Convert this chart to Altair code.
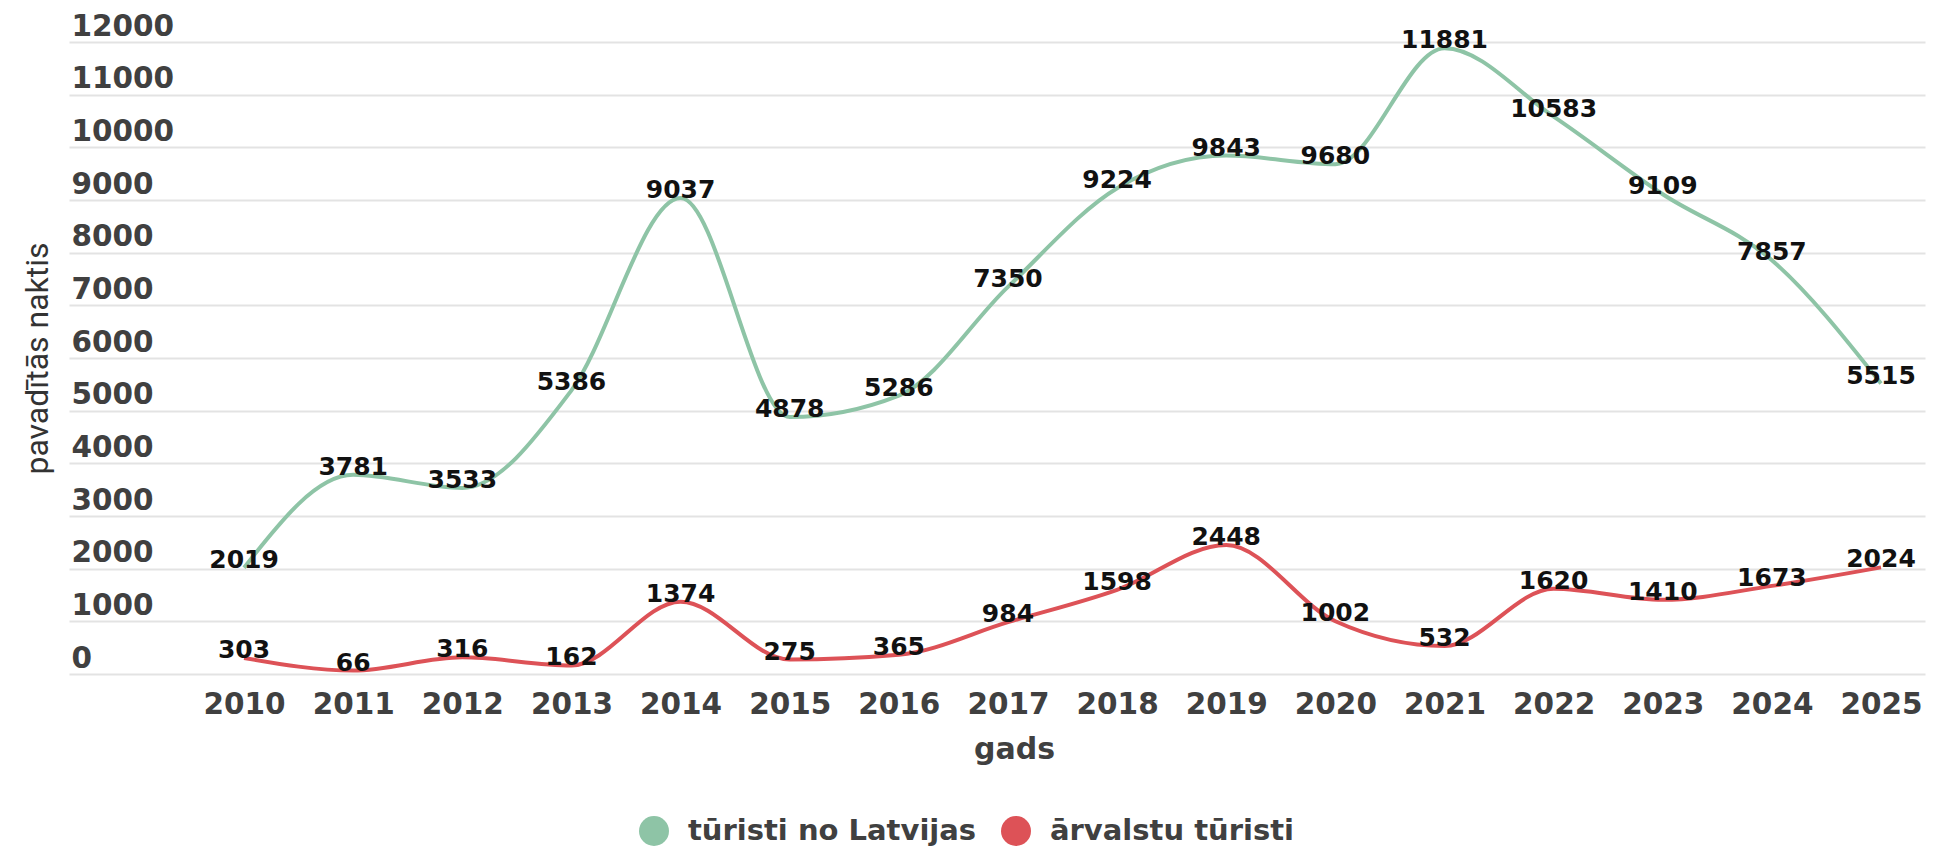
import altair as alt
import pandas as pd

years = [2010, 2011, 2012, 2013, 2014, 2015, 2016, 2017,
         2018, 2019, 2020, 2021, 2022, 2023, 2024, 2025]
latvia = [2019, 3781, 3533, 5386, 9037, 4878, 5286, 7350,
          9224, 9843, 9680, 11881, 10583, 9109, 7857, 5515]
foreign = [303, 66, 316, 162, 1374, 275, 365, 984,
           1598, 2448, 1002, 532, 1620, 1410, 1673, 2024]
series_names = ["tūristi no Latvijas", "ārvalstu tūristi"]
series_colors = ["#8ec4a6", "#dd5257"]
y_ticks = [0, 1000, 2000, 3000, 4000, 5000, 6000, 7000,
           8000, 9000, 10000, 11000, 12000]

rows = []
for yr, a, b in zip(years, latvia, foreign):
    rows.append({"gads": yr, "series": series_names[0], "value": a})
    rows.append({"gads": yr, "series": series_names[1], "value": b})
df = pd.DataFrame(rows)

FONT = "DejaVu Sans"

x_enc = alt.X(
    "gads:Q",
    scale=alt.Scale(domain=[2008.396, 2025.403], nice=False, zero=False),
    axis=alt.Axis(
        values=years, format="d", title="gads", grid=False, domain=False,
        ticks=False, tickSize=0, labelPadding=30, labelBaseline="middle",
        labelFlush=False, labelOverlap=False, labelFont=FONT,
        labelFontWeight="bold", labelFontSize=29.5, labelColor="#404040",
        titleFont=FONT, titleFontWeight="bold", titleFontSize=30,
        titleColor="#404040", titleX=945, titleY=75,
        titleBaseline="middle", titleAlign="center",
    ),
)
y_enc = alt.Y(
    "value:Q",
    scale=alt.Scale(domain=[0, 12000], nice=False),
    axis=alt.Axis(
        values=y_ticks, format="d", title="pavadītās naktis", grid=True,
        gridColor="#e3e3e3", gridWidth=2, domain=False, ticks=False,
        tickSize=0, labelAlign="left", labelPadding=-2,
        labelBaseline="alphabetic", labelOffset=-7, labelFlush=False,
        labelOverlap=False, labelFont=FONT, labelFontWeight="bold",
        labelFontSize=29.5, labelColor="#404040",
        titleFont="Roboto", titleFontWeight="normal", titleFontSize=32,
        titleColor="#333333", titleX=-32, titleY=316, titleAngle=270,
        titleBaseline="middle", titleAlign="center",
    ),
)
color_scale = alt.Scale(domain=series_names, range=series_colors)

base = alt.Chart(df)

lines = base.mark_line(interpolate="monotone", strokeWidth=4).encode(
    x=x_enc, y=y_enc,
    color=alt.Color("series:N", scale=color_scale, legend=None),
    detail="series:N",
)

legend_pts = base.transform_filter("datum.value < 0").mark_point(
    filled=True, opacity=1
).encode(
    x="gads:Q", y="value:Q",
    color=alt.Color(
        "series:N", scale=color_scale,
        legend=alt.Legend(
            title=None, orient="none", legendX=570, legendY=774,
            direction="horizontal", symbolType="circle", symbolSize=900,
            symbolStrokeWidth=0, symbolOpacity=1, labelFont=FONT,
            labelFontWeight="bold", labelFontSize=29, labelColor="#404040",
            labelOffset=19, columnPadding=24, padding=0, labelLimit=600,
        ),
    ),
)

labels = base.mark_text(
    font=FONT, fontWeight="bold", fontSize=25, color="#111111",
    baseline="alphabetic", align="center", dy=0,
).encode(
    x="gads:Q", y="value:Q", text=alt.Text("value:Q", format="d"),
)

chart = alt.layer(lines, legend_pts, labels).resolve_legend(
    color="independent"
).properties(
    width=1856, height=632,
    padding={"left": 61, "top": 34, "right": 6, "bottom": 172},
    autosize="none", background="white",
).configure_view(strokeWidth=0)

chart.save("out.html", embed_options={"renderer": "svg", "actions": False})
